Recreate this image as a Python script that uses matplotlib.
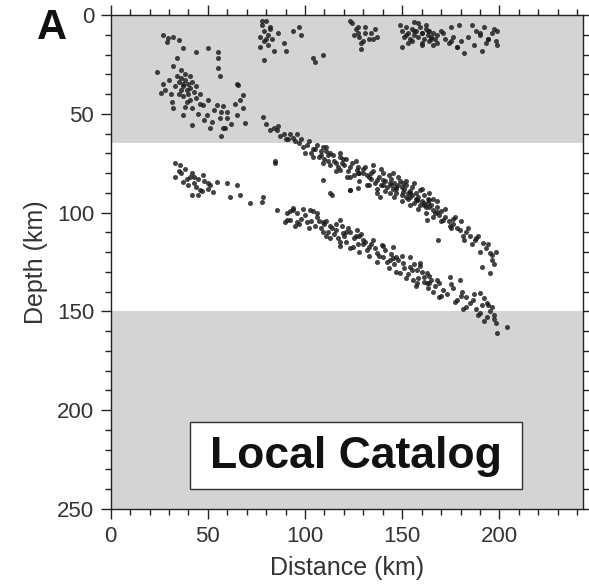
import matplotlib
matplotlib.use("Agg")
import matplotlib.pyplot as plt
from matplotlib.patches import Rectangle
from matplotlib.ticker import MultipleLocator

plt.rcParams['font.family'] = ['Liberation Sans', 'DejaVu Sans']

# ---- data (distance km, depth km) ----
shallow_east_x = [78, 82, 80, 77, 79, 84, 89, 90, 94, 97, 98, 104, 109, 105,
                  123, 127, 131, 135, 129, 137, 149, 152, 156, 160, 163, 165, 168, 150, 160, 156,
                  171, 175, 178, 182, 179, 186, 190, 194, 199, 191, 199,
                  150, 151, 152, 153, 154, 155, 156, 157, 158, 159, 160, 161, 162, 163, 164,
                  165, 166, 167, 168, 155, 160, 164, 158,
                  78, 79, 80, 81, 79, 82, 77,
                  124, 126, 127, 128, 130, 131, 133, 134,
                  172, 174, 176, 178, 180, 188, 190, 192, 194, 196, 198,
                  81, 83, 86, 125, 129, 136, 153, 162, 166, 170, 175, 184, 187, 193, 197]
shallow_east_d = [3, 7, 12, 16, 23, 18, 14, 18, 8, 6, 10, 22, 20, 24,
                  3, 6, 9, 12, 17, 11, 5, 10, 8, 9, 8, 12, 14, 16, 15, 3.5,
                  9, 13, 16, 19, 5, 5, 9, 12, 15, 18, 8,
                  8, 11, 6, 9, 12, 7, 10, 8, 11, 6, 9, 12, 7, 10, 8,
                  11, 9, 12, 10, 13, 14, 13, 4,
                  5, 8, 3, 10, 13, 6, 11,
                  4, 7, 9, 11, 13, 6, 12, 9,
                  12, 14, 11, 16, 13, 8, 10, 6, 12, 9, 13,
                  15, 12, 9, 10, 14, 7, 14, 5, 15, 8, 6, 11, 15, 14, 7]

shallow_west_x = [27, 29.5, 32, 35, 29, 37, 44, 50, 55, 55, 55, 56, 34, 32, 24, 36,
                  37, 27, 26, 46, 31.5, 32, 38, 37, 42, 47.5, 49.5, 52, 54.5, 57,
                  60, 65, 65.5, 68, 66.5, 68, 69, 78.5, 51, 58, 57, 59, 65,
                  34, 35, 36, 37, 38, 39, 40, 41, 42, 43, 38, 36, 40, 44, 41, 37,
                  30, 33, 35, 39, 42, 45, 48, 53, 56, 60, 62, 64, 31, 28, 41, 44, 46, 50, 58]
shallow_west_d = [10, 11.6, 11, 12.7, 13.7, 16.8, 18.7, 16.8, 18.7, 21.8, 26.8, 31, 21.8, 26, 29, 27.8,
                  35, 35, 39.5, 40, 44, 47, 46.6, 50.6, 55.7, 45.5, 50.6, 54, 45.5, 49,
                  52, 50.6, 35.4, 40.5, 43, 47, 54.7, 51.6, 57, 57, 61, 57, 35,
                  31, 34, 32, 36, 33, 38, 35, 37, 34, 39, 30, 38, 40, 42, 43, 41,
                  33, 36, 40, 44, 47, 50, 53, 48, 52, 49, 55, 45, 40, 38, 31, 36, 45, 43, 46]

upper_slab_x = [85.6, 89, 91, 94, 97, 99, 84.5, 104, 109, 111, 114.5, 112, 116, 119.5,
                123, 118, 121.5, 126.7, 130, 133, 137, 140, 143.6, 147, 150.5, 154, 157.5,
                109, 123, 127, 114, 138.6, 143.6,
                150.5, 154, 157.6, 161, 164, 166, 168, 164, 162.6, 171, 176, 174.5, 179.7,
                181.5, 168.5, 187.5, 191.6, 195, 198, 191, 195, 152, 159, 196, 113, 123,
                128, 130, 132, 134, 135, 136, 138, 139, 140, 141, 142, 144, 145, 146, 147,
                148, 149, 150, 151, 152, 153, 154, 155, 156, 157, 158, 159, 160, 161, 162,
                163, 165, 166, 167, 168, 169, 170, 155, 145, 137, 132,
                101, 103, 105, 107, 108, 110, 112, 113, 115, 117, 118, 120, 122, 124, 125, 127,
                80, 82, 84, 87, 92, 95, 98,
                172, 174, 176, 177, 178, 183, 185, 186, 188, 193, 196, 197,
                100, 102, 104, 106, 109, 111, 113, 116, 118, 121, 123, 126, 128, 131, 133, 135,
                137, 139, 141, 143, 146, 148, 150, 152, 154, 156, 158, 160, 162, 164, 166, 168,
                170, 172, 175, 180, 182, 184, 189, 190, 194, 150, 153, 147, 144, 157, 161, 163,
                140, 134, 127, 119, 108, 96, 90, 86]
upper_slab_d = [58, 60, 63, 62, 65, 67, 74, 68, 66.6, 69, 71, 74, 75, 73,
                77, 78.4, 82, 78.4, 80, 82, 83.5, 83.5, 85, 87, 89.6, 92, 93.6,
                83.5, 88.6, 87.6, 91, 92, 90,
                85, 90, 93.6, 95, 97, 98.7, 99.7, 93.6, 103.7, 103.7, 103, 107, 109,
                112, 114, 114, 115.6, 120.6, 120, 127.5, 130.6, 92, 88.6, 121.5, 90, 88.6,
                80, 78, 81, 83, 79, 85, 82, 86, 80, 84, 87, 83, 88, 85, 90,
                86, 84, 91, 88, 86, 93, 89, 91, 95, 90, 92, 96, 94, 91, 97,
                95, 96, 93, 100, 97, 101, 99, 87, 80, 88, 86,
                66, 70, 68, 72, 69, 73, 71, 76, 74, 77, 72, 76, 79, 75, 81, 77,
                55, 58, 57, 61, 60, 64, 63,
                102, 104, 106, 102, 108, 110, 112, 116, 113, 118, 124, 126,
                70, 64, 72, 66, 75, 67, 70, 79, 70, 73, 82, 74, 84, 77, 86, 76,
                90, 78, 89, 81, 92, 82, 94, 84, 96, 85, 98, 88, 100, 90, 102, 94,
                104, 98, 108, 104, 114, 108, 112, 120, 116, 87, 90, 88, 86, 93, 96, 93,
                86, 80, 80, 75, 71, 60, 63, 56]

lower_slab_x = [33, 35.6, 37, 40.8, 43, 46, 47.6, 50, 52.7, 41.8, 45, 54.6, 59.7, 61.4,
                65, 66.5, 71.6, 78.4, 77.8, 84.6, 85.6, 90.7, 92, 94, 89.7, 95,
                90.7, 94, 95.8, 102.5, 106, 109, 112.8, 116, 119.7, 123, 126.6, 128, 130,
                118, 111, 118, 124.6, 133, 137, 140, 143.6, 147, 150.5, 154, 149, 157.6,
                161, 155.6, 162.7, 145, 139.6,
                154, 159, 162.7, 157.6, 164, 169, 174.5, 179.7, 169, 178, 183, 186.5, 190,
                193.5, 190, 193.5, 197, 204, 199, 181.5,
                96, 98, 100, 101, 103, 104, 105, 107, 108, 110, 112, 114, 115, 117, 119, 120,
                121, 122, 125, 127, 129, 131, 132, 134, 136, 138, 141, 142, 144, 146, 148, 151,
                153, 156, 158, 160, 163, 165, 167, 171, 173, 176, 181, 185, 188, 191, 192, 195,
                196, 198,
                36, 38, 39, 42, 44, 48, 50, 40, 43,
                92, 97, 99, 102, 106, 109, 111, 113, 116, 118, 121, 123, 126, 128, 130, 133,
                135, 137, 140, 143, 145, 147, 150, 152, 155, 157, 159, 161, 164, 166, 168, 170,
                175, 177, 180, 183, 187, 189, 194, 197, 192, 45, 47, 51, 35, 33]
lower_slab_d = [75, 76, 84.5, 82, 85, 88.6, 81, 85, 89.6, 91, 91, 84.5, 85, 92,
                86, 91, 95, 92, 94.6, 75, 98.7, 100, 103.7, 97.7, 104.8, 107,
                103.7, 98.7, 105, 98.7, 102, 105, 107, 109, 110.5, 110, 109, 112, 114,
                103.7, 112, 115, 117.4, 117.4, 120.6, 122.5, 124, 122.5, 125.5, 127.5, 130.6, 129,
                132.6, 134, 135.6, 117.4, 116.4,
                122.5, 125.5, 130.6, 135.6, 135.6, 135.6, 132.6, 134, 142.7, 144, 142.7, 144, 140.7,
                145.7, 150.8, 152.8, 154, 158, 161, 149,
                100, 103, 101, 105, 104, 99, 107, 104, 108, 106, 110, 108, 111, 113, 107, 112,
                115, 108, 113, 116, 111, 115, 119, 116, 118, 122, 119, 125, 121, 126, 124, 128,
                131, 126, 133, 130, 138, 134, 137, 139, 141, 138, 140, 146, 149, 147, 143, 150,
                148, 156,
                80, 78, 83, 80, 87, 84, 88, 86, 82,
                99, 106, 98, 108, 100, 110, 104, 113, 106, 117, 110, 118, 112, 120, 116, 122,
                114, 125, 117, 128, 123, 130, 122, 133, 129, 137, 127, 135, 132, 140, 134, 142,
                136, 145, 142, 148, 141, 152, 147, 152, 155, 83, 89, 86, 79, 82]

# shaded depth bands (km)
band_top = (0, 65)
band_bottom = (150, 250)

x_ticks = [0, 50, 100, 150, 200]
y_ticks = [0, 50, 100, 150, 200, 250]

# ---- figure ----
W, H = 589, 584
fig = plt.figure(figsize=(W / 100, H / 100), dpi=100)
left, right, top, bottom = 110.7, 583, 15, 509
ax = fig.add_axes([left / W, 1 - bottom / H, (right - left) / W, (bottom - top) / H])

gray = '#d4d4d4'
ax.axhspan(*band_top, color=gray, lw=0, zorder=0)
ax.axhspan(*band_bottom, color=gray, lw=0, zorder=0)

dot = dict(s=13, c='#1a1a1a', linewidths=0, alpha=0.82, zorder=3)
ax.scatter(shallow_east_x, shallow_east_d, **dot)
ax.scatter(shallow_west_x, shallow_west_d, **dot)
ax.scatter(upper_slab_x, upper_slab_d, **dot)
ax.scatter(lower_slab_x, lower_slab_d, **dot)

ax.set_xlim(0, 243)
ax.set_ylim(250, 0)
ax.set_xticks(x_ticks)
ax.set_yticks(y_ticks)
ax.xaxis.set_minor_locator(MultipleLocator(10))
ax.yaxis.set_minor_locator(MultipleLocator(10))
ax.tick_params(which='both', direction='out', top=True, right=True,
               color='#222222', width=1.0, labelsize=16, labelcolor='#333333')
ax.tick_params(which='major', length=7, pad=5)
ax.tick_params(which='minor', length=4)
for s in ax.spines.values():
    s.set_color('#222222')
    s.set_linewidth(1.0)

ax.set_xlabel('Distance (km)', fontsize=18, color='#333333', labelpad=7)
ax.set_ylabel('Depth (km)', fontsize=18, color='#333333', labelpad=6)

# label box
ax.add_patch(Rectangle((40.8, 206), 170.8, 34, facecolor='white', edgecolor='#333333',
                       lw=1.0, zorder=4))
ax.text(126.2, 223.5, 'Local Catalog', fontsize=32, fontweight='bold', color='#111111',
        ha='center', va='center', zorder=5)

fig.text(52 / W, 1 - 28 / H, 'A', fontsize=30, fontweight='bold', color='#111111',
         ha='center', va='center')

fig.savefig('out.png', dpi=100, facecolor='white')
